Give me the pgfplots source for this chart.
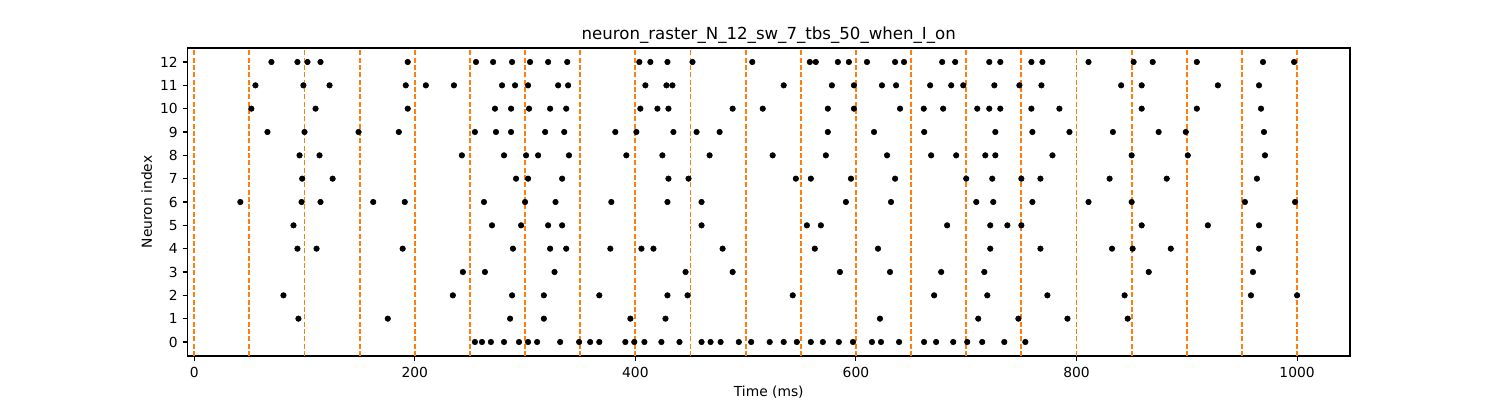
\documentclass[border=0pt]{standalone}
\usepackage{fontspec}
\setmainfont{DejaVu Sans}
\usepackage{pgfplots}
\pgfplotsset{compat=1.18}
\usepackage{pgfplotstable}
\definecolor{mplorange}{HTML}{FF7F0E}
\pgfplotstableread{
x y
70 12
93.6 12
102.7 12
114.5 12
193.6 12
255.5 12
271 12
288.2 12
304.5 12
320.9 12
338.2 12
403.6 12
413.6 12
429.1 12
451.8 12
506 12
558.2 12
563.6 12
583.6 12
593.6 12
610 12
635.5 12
643.6 12
678.2 12
690 12
720.9 12
730.9 12
759.1 12
769.1 12
810.9 12
851.8 12
869.1 12
909.1 12
969.1 12
997.3 12
55.5 11
99 11
122.7 11
191.8 11
210 11
235.5 11
279.1 11
290.9 11
302.7 11
330 11
339 11
409.1 11
428.2 11
433.6 11
534.5 11
578.2 11
598.2 11
623.6 11
636.4 11
667.3 11
686.4 11
697.3 11
725.5 11
748.2 11
768.2 11
840.5 11
859.1 11
928.2 11
965.5 11
51.8 10
110 10
193.6 10
272.7 10
287.3 10
303.6 10
322.7 10
337.3 10
404.5 10
420 10
430 10
488.2 10
515.5 10
574.5 10
598.2 10
640 10
661.5 10
679.1 10
710 10
720.9 10
730.9 10
759.1 10
784.5 10
859.1 10
909.1 10
967.3 10
66.4 9
100 9
149 9
185.5 9
254.5 9
273.6 9
287.3 9
318.2 9
335.5 9
381.8 9
400.9 9
434.5 9
455.5 9
476.4 9
574.5 9
616.4 9
661.9 9
726.4 9
760 9
793.6 9
833 9
874.5 9
899.1 9
970 9
95.5 8
113.6 8
242.7 8
280.9 8
300.9 8
311.8 8
339.8 8
391.8 8
424.5 8
467.3 8
524.5 8
572.7 8
628.2 8
668.2 8
690.9 8
717.3 8
726.4 8
778.2 8
850 8
900.9 8
970.9 8
97.9 7
125.5 7
291.8 7
302.7 7
333.6 7
430 7
448.2 7
545.5 7
559.1 7
595.5 7
635.5 7
700 7
723.6 7
750 7
767.3 7
830 7
881.8 7
963.6 7
41.8 6
97.3 6
114.5 6
162.3 6
190.9 6
262.7 6
300 6
327.6 6
378.2 6
429.1 6
460 6
590.9 6
631.8 6
709.1 6
724.5 6
760 6
810.9 6
850 6
952.7 6
998.2 6
90 5
270 5
296.4 5
320.9 5
333.6 5
460 5
555.5 5
568.2 5
682.7 5
721.8 5
737.3 5
750 5
859.1 5
919.1 5
965.5 5
93.6 4
110.9 4
189 4
289 4
322.7 4
337.3 4
377.3 4
405.5 4
416.4 4
479.1 4
562.7 4
620 4
721.8 4
767.3 4
832.2 4
850.9 4
885.5 4
965.5 4
243.6 3
263.6 3
326.7 3
445.5 3
488.2 3
585.5 3
630.9 3
677.3 3
716.4 3
865.5 3
960 3
80.9 2
234.5 2
288.2 2
317 2
367.3 2
429.1 2
447.3 2
542.7 2
670.9 2
719.1 2
773.6 2
843.6 2
958.2 2
1000 2
94.5 1
175.5 1
286.4 1
317 1
395.5 1
427.3 1
621.8 1
710.9 1
747.3 1
791.8 1
846.4 1
254.5 0
260.9 0
269 0
280.9 0
294.5 0
302.7 0
310.9 0
331.8 0
349 0
359 0
367.3 0
390.9 0
399 0
408.2 0
423.6 0
440 0
460 0
468.2 0
477.3 0
493.8 0
505 0
521.8 0
534.5 0
546.4 0
559.1 0
570 0
584.5 0
597.3 0
614.5 0
622.7 0
639.1 0
661.8 0
672.7 0
688.2 0
700.9 0
714.5 0
734.5 0
753.6 0
}\spikes
\begin{document}
\begin{tikzpicture}
\path[use as bounding box] (0,0) rectangle (15in,4in);
\begin{axis}[
  at={(1.875in,0.44in)}, anchor=south west,
  scale only axis, width=11.625in, height=3.08in,
  xmin=-6.1, xmax=1048, ymin=-0.6, ymax=12.6,
  xtick={0,200,400,600,800,1000}, ytick={0,1,...,12},
  tick align=outside, xtick pos=bottom, ytick pos=left,
  major tick length=3.5pt,
  tick style={black, line width=0.8pt},
  axis line style={line width=0.8pt},
  every axis plot/.append style={line cap=butt},
  font=\fontsize{10}{12}\selectfont,
  ticklabel style={font=\fontsize{10}{12}\selectfont},
  xticklabel style={yshift=-1pt},
  /pgf/number format/assume math mode=true,
  /pgf/number format/1000 sep={},
  title={neuron\_raster\_N\_12\_sw\_7\_tbs\_50\_when\_I\_on},
  title style={font=\fontsize{12}{14}\selectfont, yshift=-6.5pt},
  xlabel={Time (ms)}, ylabel={Neuron index},
  xlabel style={yshift=1pt}, ylabel style={yshift=-1pt},
  clip=true,
]
\addplot[only marks, mark=*, mark size=2pt, black] table[x=x,y=y] {\spikes};
\pgfplotsinvokeforeach{0,50,100,150,200,250,300,350,400,450,500,550,600,650,700,750,800,850,900,950,1000}{
  \addplot[mplorange, line width=1.35pt, dash pattern=on 3.7pt off 1.6pt] coordinates {(#1,-0.6) (#1,12.6)};
}
\end{axis}
\end{tikzpicture}
\end{document}
